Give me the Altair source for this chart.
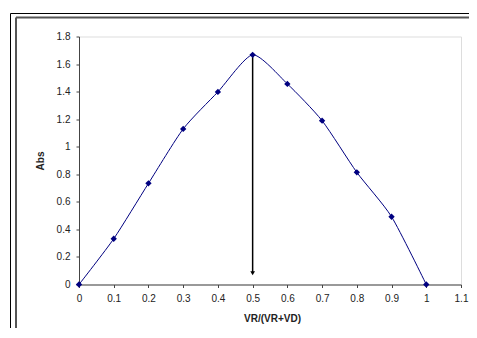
import altair as alt
import pandas as pd

ratio = [0, 0.1, 0.2, 0.3, 0.4, 0.5, 0.6, 0.7, 0.8, 0.9, 1.0]
absorb = [0, 0.332, 0.734, 1.129, 1.398, 1.667, 1.456, 1.189, 0.814, 0.492, 0]
x_ticks = [0, 0.1, 0.2, 0.3, 0.4, 0.5, 0.6, 0.7, 0.8, 0.9, 1, 1.1]
y_ticks = [0, 0.2, 0.4, 0.6, 0.8, 1, 1.2, 1.4, 1.6, 1.8]
arrow_x = [0.5]
arrow_top = [1.667]
arrow_end = [0.09]
arrow_head = [0.082]

df = pd.DataFrame({"x": ratio, "y": absorb})
arrow = pd.DataFrame({"x": arrow_x, "y": arrow_top, "y2": arrow_end})
head = pd.DataFrame({"x": arrow_x, "y": arrow_head})
one = pd.DataFrame({"a": [0]})

FONT = "Liberation Sans"
NAVY = "#000080"

xscale = alt.Scale(domain=[0, 1.1], nice=False, zero=False)
yscale = alt.Scale(domain=[0, 1.8], nice=False)

xaxis = alt.Axis(
    values=x_ticks, title="VR/(VR+VD)", grid=False, tickSize=3,
    labelPadding=6, labelFont=FONT, labelFontSize=10, labelColor="#222",
    titleFont=FONT, titleFontSize=10, titleFontWeight="bold", titleColor="#222",
    titleX=193, titleY=34, titleBaseline="middle",
    domainColor="#444", tickColor="#444", labelFlush=False, labelOverlap=False,
    labelExpr="toString(datum.value)",
)
yaxis = alt.Axis(
    values=y_ticks, title="Abs", grid=False, tickSize=3,
    labelPadding=6, labelFont=FONT, labelFontSize=10, labelColor="#222",
    titleFont=FONT, titleFontSize=10, titleFontWeight="bold", titleColor="#222",
    titleX=-39, titleY=124, titleAngle=270, titleBaseline="middle", titleAlign="center",
    domainColor="#444", tickColor="#444", labelOverlap=False,
    labelExpr="toString(datum.value)",
)

outer_top = alt.Chart(one).mark_rule(color="black", strokeWidth=1).encode(
    x=alt.value(-68.5), x2=alt.value(500), y=alt.value(-23)
)
outer_left = alt.Chart(one).mark_rule(color="black", strokeWidth=1).encode(
    x=alt.value(-68.5), y=alt.value(-23), y2=alt.value(400)
)
inner_top = alt.Chart(one).mark_rule(color="#555", strokeWidth=2).encode(
    x=alt.value(-63), x2=alt.value(500), y=alt.value(-19)
)
inner_left = alt.Chart(one).mark_rule(color="#555", strokeWidth=2).encode(
    x=alt.value(-63), y=alt.value(-19), y2=alt.value(400)
)

line = alt.Chart(df).mark_line(color=NAVY, strokeWidth=1, interpolate="cardinal", tension=0.35).encode(
    x=alt.X("x:Q", scale=xscale, axis=xaxis),
    y=alt.Y("y:Q", scale=yscale, axis=yaxis),
)
pts = alt.Chart(df).mark_point(shape="diamond", filled=True, color=NAVY, size=40, opacity=1).encode(
    x=alt.X("x:Q", scale=xscale, axis=xaxis),
    y=alt.Y("y:Q", scale=yscale, axis=yaxis),
)
rule = alt.Chart(arrow).mark_rule(color="black", strokeWidth=1.5).encode(
    x=alt.X("x:Q", scale=xscale, axis=xaxis),
    y=alt.Y("y:Q", scale=yscale, axis=yaxis),
    y2="y2:Q",
)
tip = alt.Chart(head).mark_point(shape="triangle-down", filled=True, color="black", size=22, opacity=1).encode(
    x=alt.X("x:Q", scale=xscale, axis=xaxis),
    y=alt.Y("y:Q", scale=yscale, axis=yaxis),
)

chart = alt.layer(outer_top, outer_left, inner_top, inner_left, line, rule, pts, tip).properties(
    width=382, height=248,
    autosize=alt.AutoSizeParams(type="none"),
    padding={"left": 71, "top": 28.5, "right": 8, "bottom": 43.5},
).configure_view(stroke=None).configure(background="white")

chart.save("out.html", embed_options={"renderer": "svg", "actions": False})
